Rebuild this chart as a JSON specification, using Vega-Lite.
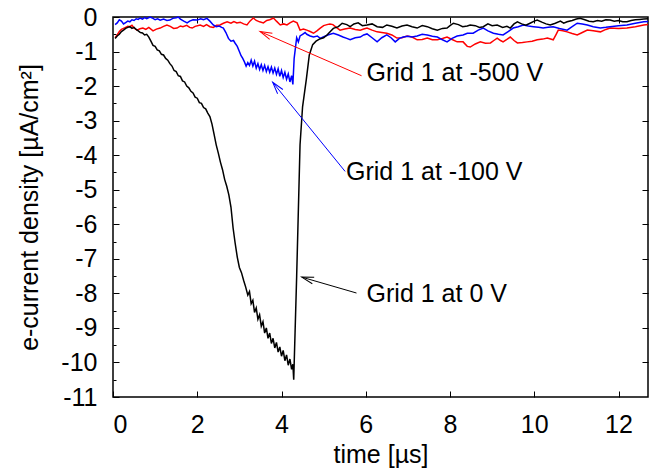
{
  "$schema": "https://vega.github.io/schema/vega-lite/v6.json",
  "autosize": "none",
  "padding": {"left": 113, "top": 17, "right": 1, "bottom": 76},
  "width": 535,
  "height": 380,
  "config": {
    "view": {"stroke": "black", "strokeWidth": 1.5},
    "font": "Liberation Sans",
    "axis": {
      "domain": false, "grid": false,
      "labelFont": "Liberation Sans", "titleFont": "Liberation Sans",
      "labelFontSize": 25, "titleFontSize": 25,
      "labelColor": "black", "titleColor": "black", "tickColor": "black",
      "titleFontWeight": "normal", "tickWidth": 1
    }
  },
  "datasets": {
    "curves": [
      {"series": "-500 V", "t": 0.05, "j": -0.6}, {"series": "-500 V", "t": 0.1, "j": -0.52}, {"series": "-500 V", "t": 0.15, "j": -0.42}, {"series": "-500 V", "t": 0.2, "j": -0.36}, {"series": "-500 V", "t": 0.25, "j": -0.33}, {"series": "-500 V", "t": 0.3, "j": -0.3}, {"series": "-500 V", "t": 0.35, "j": -0.27}, {"series": "-500 V", "t": 0.4, "j": -0.28}, {"series": "-500 V", "t": 0.45, "j": -0.24}, {"series": "-500 V", "t": 0.5, "j": -0.32}, {"series": "-500 V", "t": 0.57, "j": -0.38}, {"series": "-500 V", "t": 0.64, "j": -0.34}, {"series": "-500 V", "t": 0.71, "j": -0.32}, {"series": "-500 V", "t": 0.78, "j": -0.36}, {"series": "-500 V", "t": 0.85, "j": -0.3}, {"series": "-500 V", "t": 0.95, "j": -0.4}, {"series": "-500 V", "t": 1.03, "j": -0.35}, {"series": "-500 V", "t": 1.12, "j": -0.32}, {"series": "-500 V", "t": 1.2, "j": -0.27}, {"series": "-500 V", "t": 1.28, "j": -0.23}, {"series": "-500 V", "t": 1.36, "j": -0.27}, {"series": "-500 V", "t": 1.44, "j": -0.33}, {"series": "-500 V", "t": 1.52, "j": -0.32}, {"series": "-500 V", "t": 1.6, "j": -0.26}, {"series": "-500 V", "t": 1.66, "j": -0.28}, {"series": "-500 V", "t": 1.75, "j": -0.24}, {"series": "-500 V", "t": 1.82, "j": -0.3}, {"series": "-500 V", "t": 1.88, "j": -0.32}, {"series": "-500 V", "t": 1.95, "j": -0.27}, {"series": "-500 V", "t": 2.07, "j": -0.23}, {"series": "-500 V", "t": 2.15, "j": -0.27}, {"series": "-500 V", "t": 2.22, "j": -0.22}, {"series": "-500 V", "t": 2.3, "j": -0.28}, {"series": "-500 V", "t": 2.38, "j": -0.3}, {"series": "-500 V", "t": 2.46, "j": -0.24}, {"series": "-500 V", "t": 2.54, "j": -0.23}, {"series": "-500 V", "t": 2.62, "j": -0.18}, {"series": "-500 V", "t": 2.71, "j": -0.14}, {"series": "-500 V", "t": 2.8, "j": -0.18}, {"series": "-500 V", "t": 2.87, "j": -0.13}, {"series": "-500 V", "t": 2.94, "j": -0.17}, {"series": "-500 V", "t": 3.02, "j": -0.15}, {"series": "-500 V", "t": 3.1, "j": -0.2}, {"series": "-500 V", "t": 3.18, "j": -0.23}, {"series": "-500 V", "t": 3.25, "j": -0.12}, {"series": "-500 V", "t": 3.33, "j": -0.03}, {"series": "-500 V", "t": 3.4, "j": -0.1}, {"series": "-500 V", "t": 3.48, "j": -0.14}, {"series": "-500 V", "t": 3.57, "j": -0.17}, {"series": "-500 V", "t": 3.65, "j": -0.1}, {"series": "-500 V", "t": 3.72, "j": -0.08}, {"series": "-500 V", "t": 3.81, "j": -0.03}, {"series": "-500 V", "t": 3.88, "j": -0.12}, {"series": "-500 V", "t": 3.97, "j": -0.23}, {"series": "-500 V", "t": 4.05, "j": -0.2}, {"series": "-500 V", "t": 4.13, "j": -0.23}, {"series": "-500 V", "t": 4.2, "j": -0.17}, {"series": "-500 V", "t": 4.28, "j": -0.12}, {"series": "-500 V", "t": 4.37, "j": -0.17}, {"series": "-500 V", "t": 4.44, "j": -0.38}, {"series": "-500 V", "t": 4.52, "j": -0.35}, {"series": "-500 V", "t": 4.6, "j": -0.38}, {"series": "-500 V", "t": 4.68, "j": -0.42}, {"series": "-500 V", "t": 4.76, "j": -0.47}, {"series": "-500 V", "t": 4.84, "j": -0.4}, {"series": "-500 V", "t": 4.92, "j": -0.32}, {"series": "-500 V", "t": 5.0, "j": -0.25}, {"series": "-500 V", "t": 5.08, "j": -0.22}, {"series": "-500 V", "t": 5.15, "j": -0.2}, {"series": "-500 V", "t": 5.22, "j": -0.22}, {"series": "-500 V", "t": 5.3, "j": -0.3}, {"series": "-500 V", "t": 5.39, "j": -0.38}, {"series": "-500 V", "t": 5.5, "j": -0.35}, {"series": "-500 V", "t": 5.63, "j": -0.32}, {"series": "-500 V", "t": 5.75, "j": -0.36}, {"series": "-500 V", "t": 5.87, "j": -0.38}, {"series": "-500 V", "t": 5.95, "j": -0.35}, {"series": "-500 V", "t": 6.03, "j": -0.32}, {"series": "-500 V", "t": 6.15, "j": -0.38}, {"series": "-500 V", "t": 6.27, "j": -0.43}, {"series": "-500 V", "t": 6.38, "j": -0.45}, {"series": "-500 V", "t": 6.5, "j": -0.47}, {"series": "-500 V", "t": 6.62, "j": -0.52}, {"series": "-500 V", "t": 6.74, "j": -0.61}, {"series": "-500 V", "t": 6.86, "j": -0.6}, {"series": "-500 V", "t": 6.98, "j": -0.55}, {"series": "-500 V", "t": 7.1, "j": -0.58}, {"series": "-500 V", "t": 7.22, "j": -0.66}, {"series": "-500 V", "t": 7.34, "j": -0.65}, {"series": "-500 V", "t": 7.46, "j": -0.61}, {"series": "-500 V", "t": 7.58, "j": -0.66}, {"series": "-500 V", "t": 7.7, "j": -0.66}, {"series": "-500 V", "t": 7.82, "j": -0.62}, {"series": "-500 V", "t": 7.93, "j": -0.58}, {"series": "-500 V", "t": 8.05, "j": -0.65}, {"series": "-500 V", "t": 8.17, "j": -0.72}, {"series": "-500 V", "t": 8.31, "j": -0.72}, {"series": "-500 V", "t": 8.41, "j": -0.85}, {"series": "-500 V", "t": 8.48, "j": -0.87}, {"series": "-500 V", "t": 8.6, "j": -0.78}, {"series": "-500 V", "t": 8.72, "j": -0.72}, {"series": "-500 V", "t": 8.84, "j": -0.76}, {"series": "-500 V", "t": 8.96, "j": -0.75}, {"series": "-500 V", "t": 9.04, "j": -0.68}, {"series": "-500 V", "t": 9.12, "j": -0.61}, {"series": "-500 V", "t": 9.2, "j": -0.68}, {"series": "-500 V", "t": 9.26, "j": -0.72}, {"series": "-500 V", "t": 9.35, "j": -0.65}, {"series": "-500 V", "t": 9.43, "j": -0.58}, {"series": "-500 V", "t": 9.52, "j": -0.68}, {"series": "-500 V", "t": 9.6, "j": -0.75}, {"series": "-500 V", "t": 9.72, "j": -0.74}, {"series": "-500 V", "t": 9.83, "j": -0.72}, {"series": "-500 V", "t": 9.95, "j": -0.7}, {"series": "-500 V", "t": 10.07, "j": -0.66}, {"series": "-500 V", "t": 10.2, "j": -0.64}, {"series": "-500 V", "t": 10.31, "j": -0.61}, {"series": "-500 V", "t": 10.45, "j": -0.66}, {"series": "-500 V", "t": 10.52, "j": -0.5}, {"series": "-500 V", "t": 10.57, "j": -0.38}, {"series": "-500 V", "t": 10.68, "j": -0.4}, {"series": "-500 V", "t": 10.78, "j": -0.43}, {"series": "-500 V", "t": 10.9, "j": -0.48}, {"series": "-500 V", "t": 11.02, "j": -0.52}, {"series": "-500 V", "t": 11.14, "j": -0.45}, {"series": "-500 V", "t": 11.26, "j": -0.38}, {"series": "-500 V", "t": 11.4, "j": -0.4}, {"series": "-500 V", "t": 11.57, "j": -0.43}, {"series": "-500 V", "t": 11.7, "j": -0.36}, {"series": "-500 V", "t": 11.8, "j": -0.32}, {"series": "-500 V", "t": 12.0, "j": -0.33}, {"series": "-500 V", "t": 12.2, "j": -0.32}, {"series": "-500 V", "t": 12.4, "j": -0.28}, {"series": "-500 V", "t": 12.6, "j": -0.23}, {"series": "-500 V", "t": 12.7, "j": -0.22},

      {"series": "-100 V", "t": 0.05, "j": -0.22}, {"series": "-100 V", "t": 0.1, "j": -0.17}, {"series": "-100 V", "t": 0.15, "j": -0.08}, {"series": "-100 V", "t": 0.2, "j": -0.12}, {"series": "-100 V", "t": 0.25, "j": -0.2}, {"series": "-100 V", "t": 0.3, "j": -0.16}, {"series": "-100 V", "t": 0.35, "j": -0.12}, {"series": "-100 V", "t": 0.4, "j": -0.14}, {"series": "-100 V", "t": 0.45, "j": -0.08}, {"series": "-100 V", "t": 0.5, "j": -0.1}, {"series": "-100 V", "t": 0.55, "j": -0.05}, {"series": "-100 V", "t": 0.6, "j": -0.07}, {"series": "-100 V", "t": 0.64, "j": -0.03}, {"series": "-100 V", "t": 0.7, "j": -0.06}, {"series": "-100 V", "t": 0.75, "j": -0.02}, {"series": "-100 V", "t": 0.8, "j": -0.05}, {"series": "-100 V", "t": 0.88, "j": 0}, {"series": "-100 V", "t": 0.95, "j": -0.04}, {"series": "-100 V", "t": 1.0, "j": -0.08}, {"series": "-100 V", "t": 1.06, "j": -0.05}, {"series": "-100 V", "t": 1.12, "j": -0.09}, {"series": "-100 V", "t": 1.2, "j": -0.06}, {"series": "-100 V", "t": 1.28, "j": -0.1}, {"series": "-100 V", "t": 1.35, "j": -0.09}, {"series": "-100 V", "t": 1.42, "j": -0.04}, {"series": "-100 V", "t": 1.5, "j": -0.02}, {"series": "-100 V", "t": 1.55, "j": 0}, {"series": "-100 V", "t": 1.6, "j": -0.06}, {"series": "-100 V", "t": 1.68, "j": -0.12}, {"series": "-100 V", "t": 1.76, "j": -0.17}, {"series": "-100 V", "t": 1.82, "j": -0.12}, {"series": "-100 V", "t": 1.9, "j": -0.08}, {"series": "-100 V", "t": 2.0, "j": -0.09}, {"series": "-100 V", "t": 2.08, "j": -0.05}, {"series": "-100 V", "t": 2.15, "j": -0.08}, {"series": "-100 V", "t": 2.23, "j": -0.04}, {"series": "-100 V", "t": 2.3, "j": -0.12}, {"series": "-100 V", "t": 2.38, "j": -0.23}, {"series": "-100 V", "t": 2.45, "j": -0.28}, {"series": "-100 V", "t": 2.52, "j": -0.26}, {"series": "-100 V", "t": 2.58, "j": -0.3}, {"series": "-100 V", "t": 2.62, "j": -0.32}, {"series": "-100 V", "t": 2.68, "j": -0.45}, {"series": "-100 V", "t": 2.74, "j": -0.62}, {"series": "-100 V", "t": 2.8, "j": -0.7}, {"series": "-100 V", "t": 2.86, "j": -0.68}, {"series": "-100 V", "t": 2.9, "j": -0.76}, {"series": "-100 V", "t": 2.95, "j": -0.85}, {"series": "-100 V", "t": 3.0, "j": -1.0}, {"series": "-100 V", "t": 3.04, "j": -1.12}, {"series": "-100 V", "t": 3.08, "j": -1.2}, {"series": "-100 V", "t": 3.12, "j": -1.3}, {"series": "-100 V", "t": 3.16, "j": -1.42}, {"series": "-100 V", "t": 3.2, "j": -1.32}, {"series": "-100 V", "t": 3.24, "j": -1.4}, {"series": "-100 V", "t": 3.28, "j": -1.25}, {"series": "-100 V", "t": 3.32, "j": -1.42}, {"series": "-100 V", "t": 3.36, "j": -1.28}, {"series": "-100 V", "t": 3.4, "j": -1.48}, {"series": "-100 V", "t": 3.44, "j": -1.35}, {"series": "-100 V", "t": 3.48, "j": -1.52}, {"series": "-100 V", "t": 3.52, "j": -1.38}, {"series": "-100 V", "t": 3.56, "j": -1.55}, {"series": "-100 V", "t": 3.6, "j": -1.4}, {"series": "-100 V", "t": 3.64, "j": -1.58}, {"series": "-100 V", "t": 3.68, "j": -1.44}, {"series": "-100 V", "t": 3.72, "j": -1.6}, {"series": "-100 V", "t": 3.76, "j": -1.45}, {"series": "-100 V", "t": 3.8, "j": -1.62}, {"series": "-100 V", "t": 3.84, "j": -1.48}, {"series": "-100 V", "t": 3.88, "j": -1.66}, {"series": "-100 V", "t": 3.92, "j": -1.5}, {"series": "-100 V", "t": 3.96, "j": -1.72}, {"series": "-100 V", "t": 4.0, "j": -1.55}, {"series": "-100 V", "t": 4.04, "j": -1.75}, {"series": "-100 V", "t": 4.08, "j": -1.6}, {"series": "-100 V", "t": 4.12, "j": -1.8}, {"series": "-100 V", "t": 4.16, "j": -1.65}, {"series": "-100 V", "t": 4.2, "j": -1.88}, {"series": "-100 V", "t": 4.24, "j": -1.7}, {"series": "-100 V", "t": 4.27, "j": -1.95}, {"series": "-100 V", "t": 4.3, "j": -1.2}, {"series": "-100 V", "t": 4.33, "j": -0.9}, {"series": "-100 V", "t": 4.36, "j": -0.6}, {"series": "-100 V", "t": 4.4, "j": -0.72}, {"series": "-100 V", "t": 4.44, "j": -0.55}, {"series": "-100 V", "t": 4.5, "j": -0.5}, {"series": "-100 V", "t": 4.56, "j": -0.45}, {"series": "-100 V", "t": 4.6, "j": -0.5}, {"series": "-100 V", "t": 4.68, "j": -0.55}, {"series": "-100 V", "t": 4.76, "j": -0.58}, {"series": "-100 V", "t": 4.85, "j": -0.55}, {"series": "-100 V", "t": 4.92, "j": -0.62}, {"series": "-100 V", "t": 4.99, "j": -0.58}, {"series": "-100 V", "t": 5.1, "j": -0.52}, {"series": "-100 V", "t": 5.23, "j": -0.47}, {"series": "-100 V", "t": 5.35, "j": -0.52}, {"series": "-100 V", "t": 5.46, "j": -0.58}, {"series": "-100 V", "t": 5.55, "j": -0.62}, {"series": "-100 V", "t": 5.63, "j": -0.66}, {"series": "-100 V", "t": 5.75, "j": -0.6}, {"series": "-100 V", "t": 5.87, "j": -0.58}, {"series": "-100 V", "t": 5.95, "j": -0.52}, {"series": "-100 V", "t": 6.03, "j": -0.49}, {"series": "-100 V", "t": 6.15, "j": -0.6}, {"series": "-100 V", "t": 6.27, "j": -0.72}, {"series": "-100 V", "t": 6.38, "j": -0.6}, {"series": "-100 V", "t": 6.5, "j": -0.52}, {"series": "-100 V", "t": 6.6, "j": -0.6}, {"series": "-100 V", "t": 6.7, "j": -0.72}, {"series": "-100 V", "t": 6.8, "j": -0.62}, {"series": "-100 V", "t": 6.89, "j": -0.58}, {"series": "-100 V", "t": 7.0, "j": -0.56}, {"series": "-100 V", "t": 7.1, "j": -0.58}, {"series": "-100 V", "t": 7.22, "j": -0.55}, {"series": "-100 V", "t": 7.34, "j": -0.5}, {"series": "-100 V", "t": 7.46, "j": -0.52}, {"series": "-100 V", "t": 7.58, "j": -0.56}, {"series": "-100 V", "t": 7.7, "j": -0.58}, {"series": "-100 V", "t": 7.82, "j": -0.66}, {"series": "-100 V", "t": 7.93, "j": -0.72}, {"series": "-100 V", "t": 8.05, "j": -0.62}, {"series": "-100 V", "t": 8.17, "j": -0.55}, {"series": "-100 V", "t": 8.31, "j": -0.52}, {"series": "-100 V", "t": 8.41, "j": -0.47}, {"series": "-100 V", "t": 8.55, "j": -0.47}, {"series": "-100 V", "t": 8.67, "j": -0.38}, {"series": "-100 V", "t": 8.79, "j": -0.32}, {"series": "-100 V", "t": 8.9, "j": -0.4}, {"series": "-100 V", "t": 9.03, "j": -0.47}, {"series": "-100 V", "t": 9.15, "j": -0.5}, {"series": "-100 V", "t": 9.26, "j": -0.52}, {"series": "-100 V", "t": 9.38, "j": -0.42}, {"series": "-100 V", "t": 9.5, "j": -0.32}, {"series": "-100 V", "t": 9.62, "j": -0.28}, {"series": "-100 V", "t": 9.74, "j": -0.23}, {"series": "-100 V", "t": 9.86, "j": -0.26}, {"series": "-100 V", "t": 9.98, "j": -0.28}, {"series": "-100 V", "t": 10.1, "j": -0.3}, {"series": "-100 V", "t": 10.21, "j": -0.32}, {"series": "-100 V", "t": 10.33, "j": -0.3}, {"series": "-100 V", "t": 10.45, "j": -0.28}, {"series": "-100 V", "t": 10.6, "j": -0.33}, {"series": "-100 V", "t": 10.78, "j": -0.38}, {"series": "-100 V", "t": 10.9, "j": -0.28}, {"series": "-100 V", "t": 11.02, "j": -0.18}, {"series": "-100 V", "t": 11.14, "j": -0.2}, {"series": "-100 V", "t": 11.26, "j": -0.23}, {"series": "-100 V", "t": 11.4, "j": -0.28}, {"series": "-100 V", "t": 11.57, "j": -0.32}, {"series": "-100 V", "t": 11.7, "j": -0.3}, {"series": "-100 V", "t": 11.8, "j": -0.28}, {"series": "-100 V", "t": 12.0, "j": -0.25}, {"series": "-100 V", "t": 12.2, "j": -0.23}, {"series": "-100 V", "t": 12.4, "j": -0.18}, {"series": "-100 V", "t": 12.6, "j": -0.14}, {"series": "-100 V", "t": 12.7, "j": -0.13},

      {"series": "0 V", "t": 0.05, "j": -0.62}, {"series": "0 V", "t": 0.1, "j": -0.55}, {"series": "0 V", "t": 0.15, "j": -0.5}, {"series": "0 V", "t": 0.2, "j": -0.42}, {"series": "0 V", "t": 0.25, "j": -0.38}, {"series": "0 V", "t": 0.3, "j": -0.33}, {"series": "0 V", "t": 0.35, "j": -0.3}, {"series": "0 V", "t": 0.4, "j": -0.28}, {"series": "0 V", "t": 0.45, "j": -0.33}, {"series": "0 V", "t": 0.5, "j": -0.3}, {"series": "0 V", "t": 0.55, "j": -0.36}, {"series": "0 V", "t": 0.6, "j": -0.4}, {"series": "0 V", "t": 0.65, "j": -0.45}, {"series": "0 V", "t": 0.7, "j": -0.46}, {"series": "0 V", "t": 0.75, "j": -0.52}, {"series": "0 V", "t": 0.8, "j": -0.5}, {"series": "0 V", "t": 0.85, "j": -0.58}, {"series": "0 V", "t": 0.9, "j": -0.7}, {"series": "0 V", "t": 0.95, "j": -0.82}, {"series": "0 V", "t": 1.0, "j": -0.85}, {"series": "0 V", "t": 1.05, "j": -0.95}, {"series": "0 V", "t": 1.1, "j": -0.98}, {"series": "0 V", "t": 1.15, "j": -1.08}, {"series": "0 V", "t": 1.2, "j": -1.1}, {"series": "0 V", "t": 1.25, "j": -1.2}, {"series": "0 V", "t": 1.3, "j": -1.25}, {"series": "0 V", "t": 1.35, "j": -1.35}, {"series": "0 V", "t": 1.4, "j": -1.42}, {"series": "0 V", "t": 1.45, "j": -1.55}, {"series": "0 V", "t": 1.5, "j": -1.58}, {"series": "0 V", "t": 1.55, "j": -1.7}, {"series": "0 V", "t": 1.6, "j": -1.72}, {"series": "0 V", "t": 1.65, "j": -1.85}, {"series": "0 V", "t": 1.7, "j": -1.88}, {"series": "0 V", "t": 1.75, "j": -2.0}, {"series": "0 V", "t": 1.8, "j": -2.05}, {"series": "0 V", "t": 1.85, "j": -2.15}, {"series": "0 V", "t": 1.9, "j": -2.2}, {"series": "0 V", "t": 1.95, "j": -2.32}, {"series": "0 V", "t": 2.0, "j": -2.35}, {"series": "0 V", "t": 2.05, "j": -2.48}, {"series": "0 V", "t": 2.1, "j": -2.5}, {"series": "0 V", "t": 2.15, "j": -2.62}, {"series": "0 V", "t": 2.2, "j": -2.66}, {"series": "0 V", "t": 2.25, "j": -2.78}, {"series": "0 V", "t": 2.3, "j": -2.88}, {"series": "0 V", "t": 2.35, "j": -3.1}, {"series": "0 V", "t": 2.4, "j": -3.4}, {"series": "0 V", "t": 2.45, "j": -3.7}, {"series": "0 V", "t": 2.5, "j": -3.94}, {"series": "0 V", "t": 2.55, "j": -4.2}, {"series": "0 V", "t": 2.6, "j": -4.42}, {"series": "0 V", "t": 2.65, "j": -4.7}, {"series": "0 V", "t": 2.7, "j": -4.9}, {"series": "0 V", "t": 2.75, "j": -5.15}, {"series": "0 V", "t": 2.8, "j": -5.5}, {"series": "0 V", "t": 2.85, "j": -6.1}, {"series": "0 V", "t": 2.9, "j": -6.55}, {"series": "0 V", "t": 2.95, "j": -6.95}, {"series": "0 V", "t": 3.0, "j": -7.25}, {"series": "0 V", "t": 3.05, "j": -7.4}, {"series": "0 V", "t": 3.1, "j": -7.62}, {"series": "0 V", "t": 3.15, "j": -7.82}, {"series": "0 V", "t": 3.2, "j": -8.05}, {"series": "0 V", "t": 3.24, "j": -7.95}, {"series": "0 V", "t": 3.28, "j": -8.3}, {"series": "0 V", "t": 3.32, "j": -8.2}, {"series": "0 V", "t": 3.36, "j": -8.55}, {"series": "0 V", "t": 3.4, "j": -8.42}, {"series": "0 V", "t": 3.44, "j": -8.75}, {"series": "0 V", "t": 3.48, "j": -8.62}, {"series": "0 V", "t": 3.52, "j": -8.95}, {"series": "0 V", "t": 3.56, "j": -8.82}, {"series": "0 V", "t": 3.6, "j": -9.15}, {"series": "0 V", "t": 3.64, "j": -9.0}, {"series": "0 V", "t": 3.68, "j": -9.3}, {"series": "0 V", "t": 3.72, "j": -9.15}, {"series": "0 V", "t": 3.76, "j": -9.45}, {"series": "0 V", "t": 3.8, "j": -9.3}, {"series": "0 V", "t": 3.84, "j": -9.58}, {"series": "0 V", "t": 3.88, "j": -9.42}, {"series": "0 V", "t": 3.92, "j": -9.7}, {"series": "0 V", "t": 3.96, "j": -9.55}, {"series": "0 V", "t": 4.0, "j": -9.82}, {"series": "0 V", "t": 4.04, "j": -9.65}, {"series": "0 V", "t": 4.08, "j": -9.95}, {"series": "0 V", "t": 4.12, "j": -9.78}, {"series": "0 V", "t": 4.16, "j": -10.08}, {"series": "0 V", "t": 4.2, "j": -9.9}, {"series": "0 V", "t": 4.24, "j": -10.2}, {"series": "0 V", "t": 4.27, "j": -10.05}, {"series": "0 V", "t": 4.29, "j": -10.5}, {"series": "0 V", "t": 4.36, "j": -7.5}, {"series": "0 V", "t": 4.44, "j": -3.7}, {"series": "0 V", "t": 4.5, "j": -2.6}, {"series": "0 V", "t": 4.59, "j": -1.8}, {"series": "0 V", "t": 4.66, "j": -1.1}, {"series": "0 V", "t": 4.74, "j": -0.8}, {"series": "0 V", "t": 4.82, "j": -0.7}, {"series": "0 V", "t": 4.9, "j": -0.64}, {"series": "0 V", "t": 5.0, "j": -0.6}, {"series": "0 V", "t": 5.08, "j": -0.52}, {"series": "0 V", "t": 5.23, "j": -0.33}, {"series": "0 V", "t": 5.35, "j": -0.28}, {"series": "0 V", "t": 5.44, "j": -0.18}, {"series": "0 V", "t": 5.55, "j": -0.22}, {"series": "0 V", "t": 5.63, "j": -0.28}, {"series": "0 V", "t": 5.72, "j": -0.2}, {"series": "0 V", "t": 5.82, "j": -0.17}, {"series": "0 V", "t": 5.92, "j": -0.25}, {"series": "0 V", "t": 6.03, "j": -0.23}, {"series": "0 V", "t": 6.15, "j": -0.2}, {"series": "0 V", "t": 6.27, "j": -0.28}, {"series": "0 V", "t": 6.4, "j": -0.3}, {"series": "0 V", "t": 6.5, "j": -0.23}, {"series": "0 V", "t": 6.62, "j": -0.27}, {"series": "0 V", "t": 6.74, "j": -0.32}, {"series": "0 V", "t": 6.86, "j": -0.26}, {"series": "0 V", "t": 6.98, "j": -0.23}, {"series": "0 V", "t": 7.1, "j": -0.28}, {"series": "0 V", "t": 7.22, "j": -0.32}, {"series": "0 V", "t": 7.34, "j": -0.25}, {"series": "0 V", "t": 7.46, "j": -0.28}, {"series": "0 V", "t": 7.58, "j": -0.34}, {"series": "0 V", "t": 7.7, "j": -0.38}, {"series": "0 V", "t": 7.82, "j": -0.33}, {"series": "0 V", "t": 7.93, "j": -0.32}, {"series": "0 V", "t": 8.0, "j": -0.25}, {"series": "0 V", "t": 8.08, "j": -0.18}, {"series": "0 V", "t": 8.2, "j": -0.22}, {"series": "0 V", "t": 8.3, "j": -0.28}, {"series": "0 V", "t": 8.41, "j": -0.26}, {"series": "0 V", "t": 8.48, "j": -0.23}, {"series": "0 V", "t": 8.6, "j": -0.25}, {"series": "0 V", "t": 8.7, "j": -0.3}, {"series": "0 V", "t": 8.79, "j": -0.28}, {"series": "0 V", "t": 8.9, "j": -0.2}, {"series": "0 V", "t": 9.0, "j": -0.25}, {"series": "0 V", "t": 9.12, "j": -0.23}, {"series": "0 V", "t": 9.25, "j": -0.3}, {"series": "0 V", "t": 9.35, "j": -0.27}, {"series": "0 V", "t": 9.43, "j": -0.32}, {"series": "0 V", "t": 9.52, "j": -0.2}, {"series": "0 V", "t": 9.6, "j": -0.14}, {"series": "0 V", "t": 9.7, "j": -0.2}, {"series": "0 V", "t": 9.8, "j": -0.24}, {"series": "0 V", "t": 9.9, "j": -0.18}, {"series": "0 V", "t": 10.0, "j": -0.12}, {"series": "0 V", "t": 10.07, "j": -0.09}, {"series": "0 V", "t": 10.18, "j": -0.15}, {"series": "0 V", "t": 10.28, "j": -0.2}, {"series": "0 V", "t": 10.38, "j": -0.23}, {"series": "0 V", "t": 10.5, "j": -0.18}, {"series": "0 V", "t": 10.62, "j": -0.12}, {"series": "0 V", "t": 10.7, "j": -0.18}, {"series": "0 V", "t": 10.78, "j": -0.14}, {"series": "0 V", "t": 10.9, "j": -0.1}, {"series": "0 V", "t": 11.0, "j": -0.06}, {"series": "0 V", "t": 11.09, "j": -0.04}, {"series": "0 V", "t": 11.2, "j": -0.08}, {"series": "0 V", "t": 11.3, "j": -0.12}, {"series": "0 V", "t": 11.4, "j": -0.14}, {"series": "0 V", "t": 11.5, "j": -0.1}, {"series": "0 V", "t": 11.6, "j": -0.12}, {"series": "0 V", "t": 11.7, "j": -0.08}, {"series": "0 V", "t": 11.8, "j": -0.09}, {"series": "0 V", "t": 11.9, "j": -0.12}, {"series": "0 V", "t": 12.0, "j": -0.1}, {"series": "0 V", "t": 12.1, "j": -0.14}, {"series": "0 V", "t": 12.2, "j": -0.14}, {"series": "0 V", "t": 12.3, "j": -0.1}, {"series": "0 V", "t": 12.4, "j": -0.08}, {"series": "0 V", "t": 12.5, "j": -0.07}, {"series": "0 V", "t": 12.6, "j": -0.06}, {"series": "0 V", "t": 12.7, "j": -0.05}
    ],
    "arrows": [
      {"series": "-500 V", "x1": 5.9, "y1": -1.7, "x2": 3.49, "y2": -0.42},
      {"series": "-100 V", "x1": 5.51, "y1": -4.47, "x2": 3.79, "y2": -1.89},
      {"series": "0 V", "x1": 5.78, "y1": -7.99, "x2": 4.48, "y2": -7.53}
    ],
    "notes": [
      {"label": "Grid 1 at -500 V", "x": 6.02, "y": -1.61},
      {"label": "Grid 1 at -100 V", "x": 5.53, "y": -4.49},
      {"label": "Grid 1 at 0 V", "x": 6.02, "y": -8.01}
    ]
  },
  "layer": [
    {
      "data": {"name": "curves"},
      "mark": {"type": "line", "strokeWidth": 1.5},
      "encoding": {
        "x": {"field": "t", "type": "quantitative", "scale": {"domain": [0, 12.7], "nice": false, "zero": false},
              "axis": {"orient": "bottom", "values": [0, 2, 4, 6, 8, 10, 12], "tickSize": -6, "labelPadding": 21, "title": "time [µs]", "titlePadding": 5}},
        "y": {"field": "j", "type": "quantitative", "scale": {"domain": [-11, 0], "nice": false, "zero": false},
              "axis": {"orient": "left", "values": [0, -1, -2, -3, -4, -5, -6, -7, -8, -9, -10, -11], "tickSize": -6, "labelPadding": 22,
                       "labelExpr": "datum.value == 0 ? '0' : '-' + abs(datum.value)", "title": "e-current density [µA/cm²]", "titlePadding": 18}},
        "color": {"field": "series", "type": "nominal", "scale": {"domain": ["0 V", "-100 V", "-500 V"], "range": ["#000000", "#0000ff", "#ff0000"]}, "legend": null}
      }
    },
    {
      "data": {"name": "curves"},
      "mark": {"type": "point", "opacity": 0},
      "encoding": {
        "x": {"field": "t", "type": "quantitative", "scale": {"domain": [0, 12.7], "nice": false, "zero": false}, "axis": null},
        "y": {"field": "j", "type": "quantitative", "scale": {"domain": [-11, 0], "nice": false, "zero": false},
              "axis": {"orient": "left", "values": [-0.5, -1.5, -2.5, -3.5, -4.5, -5.5, -6.5, -7.5, -8.5, -9.5, -10.5], "tickSize": -3, "labels": false, "title": null}}
      }
    },
    {
      "data": {"name": "curves"},
      "mark": {"type": "point", "opacity": 0},
      "encoding": {
        "x": {"field": "t", "type": "quantitative", "scale": {"domain": [0, 12.7], "nice": false, "zero": false},
              "axis": {"orient": "top", "values": [2, 4, 6, 8, 10, 12], "tickSize": -6, "labels": false, "title": null}},
        "y": {"field": "j", "type": "quantitative", "scale": {"domain": [-11, 0], "nice": false, "zero": false},
              "axis": {"orient": "right", "values": [-1, -2, -3, -4, -5, -6, -7, -8, -9, -10], "tickSize": -6, "labels": false, "title": null}}
      }
    },
    {
      "data": {"name": "arrows"},
      "mark": {"type": "rule", "strokeWidth": 1},
      "encoding": {
        "x": {"field": "x1", "type": "quantitative", "scale": {"domain": [0, 12.7], "nice": false, "zero": false}, "axis": null},
        "y": {"field": "y1", "type": "quantitative", "scale": {"domain": [-11, 0], "nice": false, "zero": false}, "axis": null},
        "x2": {"field": "x2"},
        "y2": {"field": "y2"},
        "color": {"field": "series", "type": "nominal", "scale": {"domain": ["0 V", "-100 V", "-500 V"], "range": ["#000000", "#0000ff", "#ff0000"]}, "legend": null}
      }
    },
    {
      "data": {"name": "arrows"},
      "transform": [{"filter": "datum.series == '-500 V'"}],
      "mark": {"type": "point", "shape": "M -0.45 1.6 L 0 0 L 0.45 1.6", "size": 225, "filled": false, "strokeWidth": 1, "opacity": 1, "angle": 293.5},
      "encoding": {
        "x": {"field": "x2", "type": "quantitative", "scale": {"domain": [0, 12.7], "nice": false, "zero": false}, "axis": null},
        "y": {"field": "y2", "type": "quantitative", "scale": {"domain": [-11, 0], "nice": false, "zero": false}, "axis": null},
        "color": {"field": "series", "type": "nominal", "scale": {"domain": ["0 V", "-100 V", "-500 V"], "range": ["#000000", "#0000ff", "#ff0000"]}, "legend": null}
      }
    },
    {
      "data": {"name": "arrows"},
      "transform": [{"filter": "datum.series == '-100 V'"}],
      "mark": {"type": "point", "shape": "M -0.45 1.6 L 0 0 L 0.45 1.6", "size": 225, "filled": false, "strokeWidth": 1, "opacity": 1, "angle": 320.9},
      "encoding": {
        "x": {"field": "x2", "type": "quantitative", "scale": {"domain": [0, 12.7], "nice": false, "zero": false}, "axis": null},
        "y": {"field": "y2", "type": "quantitative", "scale": {"domain": [-11, 0], "nice": false, "zero": false}, "axis": null},
        "color": {"field": "series", "type": "nominal", "scale": {"domain": ["0 V", "-100 V", "-500 V"], "range": ["#000000", "#0000ff", "#ff0000"]}, "legend": null}
      }
    },
    {
      "data": {"name": "arrows"},
      "transform": [{"filter": "datum.series == '0 V'"}],
      "mark": {"type": "point", "shape": "M -0.45 1.6 L 0 0 L 0.45 1.6", "size": 225, "filled": false, "strokeWidth": 1, "opacity": 1, "angle": 286.2},
      "encoding": {
        "x": {"field": "x2", "type": "quantitative", "scale": {"domain": [0, 12.7], "nice": false, "zero": false}, "axis": null},
        "y": {"field": "y2", "type": "quantitative", "scale": {"domain": [-11, 0], "nice": false, "zero": false}, "axis": null},
        "color": {"field": "series", "type": "nominal", "scale": {"domain": ["0 V", "-100 V", "-500 V"], "range": ["#000000", "#0000ff", "#ff0000"]}, "legend": null}
      }
    },
    {
      "data": {"name": "notes"},
      "mark": {"type": "text", "align": "left", "baseline": "middle", "fontSize": 25, "font": "Liberation Sans", "color": "black"},
      "encoding": {
        "x": {"field": "x", "type": "quantitative", "scale": {"domain": [0, 12.7], "nice": false, "zero": false}, "axis": null},
        "y": {"field": "y", "type": "quantitative", "scale": {"domain": [-11, 0], "nice": false, "zero": false}, "axis": null},
        "text": {"field": "label"}
      }
    }
  ],
  "resolve": {"axis": {"x": "independent", "y": "independent"}}
}
